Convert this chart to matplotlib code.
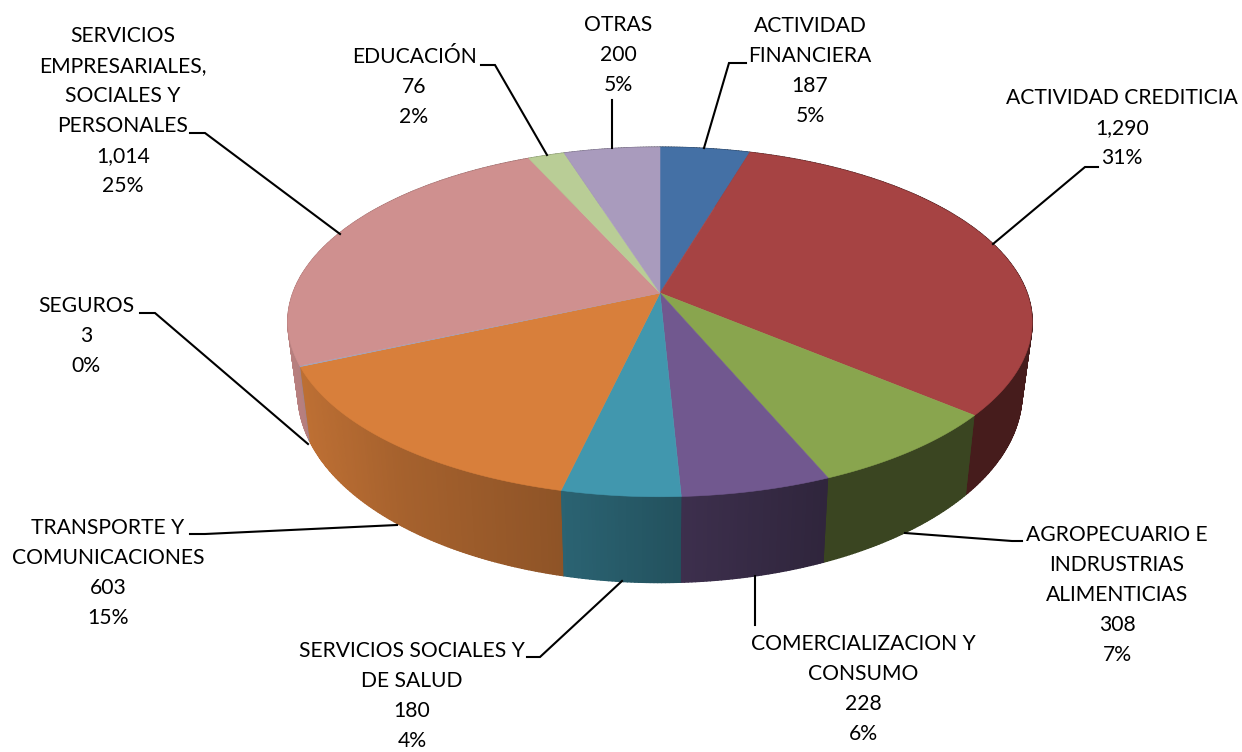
import numpy as np
import matplotlib
matplotlib.use("Agg")
import matplotlib.pyplot as plt
from matplotlib.collections import PolyCollection
from matplotlib.colors import to_rgb

categories = ["ACTIVIDAD\nFINANCIERA", "ACTIVIDAD CREDITICIA",
              "AGROPECUARIO E\nINDRUSTRIAS\nALIMENTICIAS",
              "COMERCIALIZACION Y\nCONSUMO", "SERVICIOS SOCIALES Y\nDE SALUD",
              "TRANSPORTE Y\nCOMUNICACIONES", "SEGUROS",
              "SERVICIOS\nEMPRESARIALES,\nSOCIALES Y\nPERSONALES",
              "EDUCACIÓN", "OTRAS"]
values = [187, 1290, 308, 228, 180, 603, 3, 1014, 76, 200]
value_labels = ["187", "1,290", "308", "228", "180", "603", "3", "1,014", "76", "200"]
percent_labels = ["5%", "31%", "7%", "6%", "4%", "15%", "0%", "25%", "2%", "5%"]
colors = ["#4470A5", "#A64343", "#89A54E", "#71588F", "#4197AE", "#D87F3B",
          "#93A9CF", "#CF908F", "#B9CD96", "#A99BBD"]

label_pos = [(810, 71), (1122, 128), (1117, 595), (863, 689), (412, 696),
             (108, 573), (86, 336), (123, 111), (414, 87), (618, 55)]
leaders = [[(704, 148), (729, 63), (746, 63)],
           [(993, 244), (1085, 167), (1098, 167)],
           [(905, 533), (1012, 541), (1022, 541)],
           [(755, 576), (755, 625)],
           [(622, 581), (540, 657), (527, 657)],
           [(397, 525), (205, 534), (190, 534)],
           [(308, 444), (155, 313), (140, 313)],
           [(340, 234), (205, 133), (190, 133)],
           [(547, 155), (495, 65), (481, 65)],
           [(612, 148), (612, 100)]]

CX, CY, A, B, K = 660, 293, 367, 170, 0.1657
CY2, A2, B2 = 362, 357, 184
SHADE_X = [285, 400, 560, 680, 825, 1035]
SHADE_F = [0.90, 0.77, 0.66, 0.54, 0.42, 0.42]


def top(t):
    u, v = np.sin(t), np.cos(t)
    d = 1 + K * v
    return CX + A * u / d, CY - B * v / d


def bottom(t):
    u, v = np.sin(t), np.cos(t)
    d = 1 + K * v
    return CX + A2 * u / d, CY2 - B2 * v / d


fig = plt.figure(figsize=(12.42, 7.52), dpi=100)
ax = fig.add_axes([0, 0, 1, 1])
ax.set_xlim(0, 1242)
ax.set_ylim(752, 0)
ax.axis("off")

edges = np.cumsum([0] + values) / sum(values) * 2 * np.pi

# side walls, back to front
polys, cols, order = [], [], []
for i, c in enumerate(colors):
    n = max(2, int(np.degrees(edges[i + 1] - edges[i]) * 2))
    ts = np.linspace(edges[i], edges[i + 1], n + 1)
    for a, b in zip(ts[:-1], ts[1:]):
        xa, ya = top(a); xb, yb = top(b)
        xc, yc = bottom(b); xd, yd = bottom(a)
        polys.append([(xa, ya), (xb, yb), (xc, yc), (xd, yd)])
        f = np.interp((xa + xb + xc + xd) / 4, SHADE_X, SHADE_F)
        cols.append(tuple(np.array(to_rgb(c)) * f))
        order.append(ya + yb)
idx = np.argsort(order)
sorted_polys = [polys[j] for j in idx]
sorted_cols = [cols[j] for j in idx]
ax.add_collection(PolyCollection(sorted_polys, facecolors=sorted_cols,
                                 edgecolors=sorted_cols, linewidths=1.0, zorder=2))
ax.add_collection(PolyCollection(sorted_polys, facecolors=sorted_cols,
                                 edgecolors="none", linewidths=0, zorder=2.5))

# top face
for i, c in enumerate(colors):
    ts = np.linspace(edges[i], edges[i + 1], 120)
    x, y = top(ts)
    ax.fill(np.r_[CX, x], np.r_[CY, y], facecolor=c, edgecolor=c, linewidth=0.4, zorder=3)

for pts in leaders:
    xs, ys = zip(*pts)
    ax.plot(xs, ys, color="black", lw=1.5, solid_joinstyle="miter", zorder=4)

for cat, val, pct, (x, y) in zip(categories, value_labels, percent_labels, label_pos):
    ax.text(x, y, f"{cat}\n{val}\n{pct}", ha="center", va="center", family="Lato",
            fontsize=15.2, color="black", linespacing=1.635, zorder=5)

fig.savefig("out.png", dpi=100)
